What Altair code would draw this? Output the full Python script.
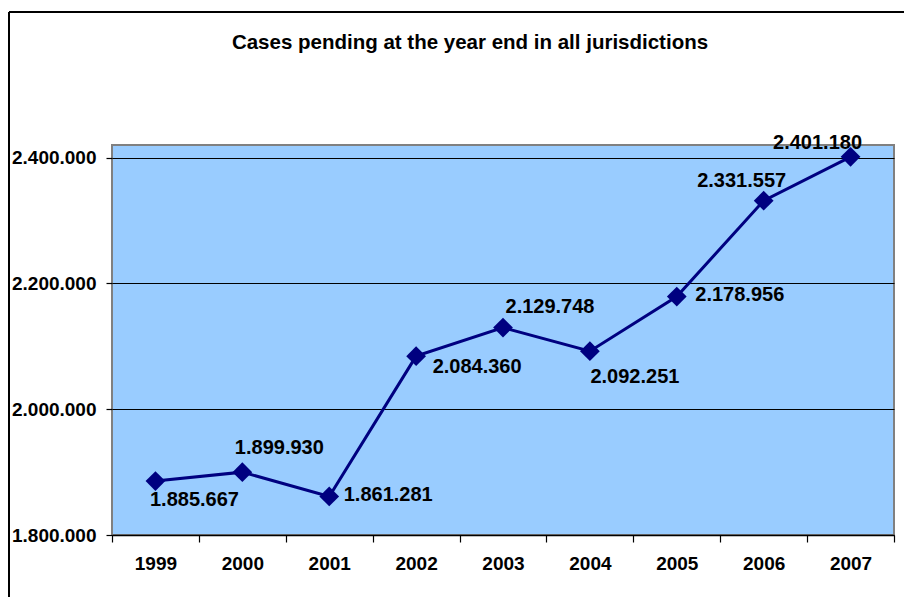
import altair as alt
import pandas as pd

# ---- data ----
years = ["1999", "2000", "2001", "2002", "2003", "2004", "2005", "2006", "2007"]
cases = [1885667, 1899930, 1861281, 2084360, 2129748, 2092251, 2178956, 2331557, 2401180]
y_ticks = [1800000, 2000000, 2200000, 2400000]

# label placement (pixel nudges of each data label relative to its point)
label_dx = [39, 37, 59, 61, 47, 45, 63, -22, -33]
label_dy = [19, -24, -1, 11, -21, 26, -2, -20, -14]

df = pd.DataFrame({"year": years, "cases": cases})
df["label"] = [f"{v:,}".replace(",", ".") for v in cases]

FONT = "Liberation Sans"
NAVY = "#000080"

x_enc = alt.X(
    "year:N", sort=None, title=None, bandPosition=0.5,
    scale=alt.Scale(type="band", paddingInner=0, paddingOuter=0),
    axis=alt.Axis(
        labelAngle=0, labelFont=FONT, labelFontSize=19, labelFontWeight="bold",
        labelColor="black", labelPadding=12, tickBand="extent", ticks=True,
        tickColor="black", tickSize=7, tickWidth=1.2, domainColor="black",
        domainWidth=1.5, grid=False,
    ),
)
y_enc = alt.Y(
    "cases:Q", title=None,
    scale=alt.Scale(domain=[1800000, 2420000], nice=False, zero=False),
    axis=alt.Axis(
        values=y_ticks,
        labelExpr="replace(replace(format(datum.value, ','), ',', '.'), ',', '.')",
        labelFont=FONT, labelFontSize=19, labelFontWeight="bold", labelColor="black",
        labelPadding=10, tickColor="black", tickSize=6, tickWidth=1.2,
        domain=False, grid=True, gridColor="black", gridWidth=1,
    ),
)

base = alt.Chart(df)

line = base.mark_line(color=NAVY, strokeWidth=3).encode(x=x_enc, y=y_enc)
points = base.mark_point(shape="diamond", filled=True, color=NAVY, size=390, opacity=1).encode(
    x=x_enc, y=y_enc
)

label_layers = []
for yr, dx, dy in zip(years, label_dx, label_dy):
    label_layers.append(
        base.transform_filter(alt.datum.year == yr)
        .mark_text(font=FONT, fontSize=20, fontWeight="bold", color="black",
                   align="center", baseline="middle", dx=dx, dy=dy)
        .encode(x=x_enc, y=y_enc, text="label:N")
    )

frame_df = pd.DataFrame({"k": [0]})
frame_top = alt.Chart(frame_df).mark_rule(color="black", strokeWidth=2).encode(
    x=alt.value(-103), x2=alt.value(792), y=alt.value(-133)
)
frame_left = alt.Chart(frame_df).mark_rule(color="black", strokeWidth=2).encode(
    x=alt.value(-103), y=alt.value(-133), y2=alt.value(455)
)

chart = (
    alt.layer(frame_top, frame_left, line, points, *label_layers)
    .properties(
        width=782,
        height=390,
        autosize=alt.AutoSizeParams(type="none"),
        padding={"left": 104, "top": 137, "right": 10, "bottom": 62},
        title=alt.TitleParams(
            "Cases pending at the year end in all jurisdictions",
            font=FONT, fontSize=20.5, fontWeight="bold", color="black",
            anchor="middle", baseline="alphabetic", dx=-33, dy=58, offset=0,
        ),
    )
    .configure(background="white")
    .configure_view(fill="#99CCFF", stroke="#808080", strokeWidth=2)
)

chart.save("out.html", embed_options={"renderer": "svg", "actions": False})
